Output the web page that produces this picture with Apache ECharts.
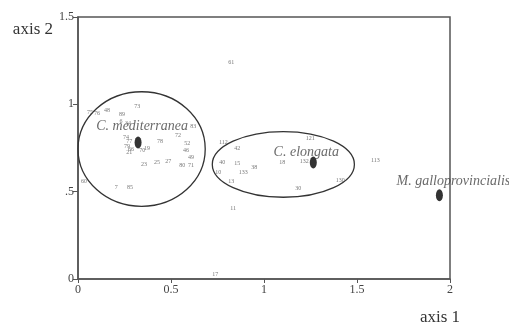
<!DOCTYPE html>
<html><head><meta charset="utf-8">
<script src="https://cdn.jsdelivr.net/npm/echarts@6/dist/echarts.min.js"></script>
<style>html,body{margin:0;padding:0;background:#fff}#c{width:509px;height:326px}</style>
</head><body><div id="c"></div>
<script>
// sample point labels and coordinates (axis 1, axis 2)
var pointNames = ["73","75","76","48","89","6","34","83","72","78","52","46","49","71","80","27","25","23","19","74","77","79","66","21","70","60","7","85",
  "121","18","132","112","42","40","15","38","133","10","13","130","30",
  "61","17","11","113"];
var pointX = [0.318,0.065,0.102,0.156,0.237,0.231,0.269,0.619,0.538,0.441,0.587,0.581,0.608,0.608,0.560,0.485,0.425,0.355,0.371,0.258,0.275,0.264,0.285,0.275,0.345,0.032,0.205,0.280,
  1.249,1.098,1.217,0.781,0.856,0.775,0.856,0.948,0.888,0.754,0.824,1.410,1.184,
  0.824,0.738,0.834,1.599];
var pointY = [0.987,0.953,0.947,0.964,0.941,0.901,0.890,0.873,0.821,0.787,0.776,0.736,0.696,0.650,0.650,0.673,0.667,0.656,0.747,0.810,0.787,0.759,0.741,0.724,0.736,0.559,0.525,0.525,
  0.804,0.667,0.673,0.781,0.747,0.667,0.662,0.639,0.610,0.610,0.559,0.565,0.519,
  1.238,0.029,0.405,0.679];

// species centroids
var speciesNames = ["C. mediterranea","C. elongata","M. galloprovincialis"];
var centroidX = [0.323,1.265,1.943];
var centroidY = [0.781,0.667,0.479];

// group ellipses: centre x, centre y, radius x, radius y (axis units)
var ellipseCX = [0.342,1.104];
var ellipseCY = [0.744,0.656];
var ellipseRX = [0.342,0.382];
var ellipseRY = [0.328,0.188];

var xTicks = ["0","0.5","1","1.5","2"];
var yTicks = ["0",".5","1","1.5"];

var serif = '"Liberation Serif", "DejaVu Serif", serif';
var labelOffsets = [[4,-16],[-7,-10],[14,-14]];

var chart = echarts.init(document.getElementById('c'), null, {renderer:'canvas'});
chart.setOption({
  animation:false,
  backgroundColor:'#fff',
  grid:{left:78,right:59,top:17,bottom:46,show:true,borderColor:'#555',borderWidth:1.5,backgroundColor:'transparent'},
  xAxis:{type:'value',min:0,max:2,interval:0.5,
    name:'axis 1',nameLocation:'end',nameGap:-10,
    nameTextStyle:{fontFamily:serif,fontSize:17,color:'#333',align:'center',verticalAlign:'top',padding:[30,0,0,0]},
    axisLine:{show:true,lineStyle:{color:'#555',width:1.5}},
    axisTick:{show:true,length:4,lineStyle:{color:'#555'}},
    axisLabel:{fontFamily:serif,fontSize:12,color:'#444',margin:5,formatter:function(v){return xTicks[Math.round(v/0.5)];}},
    splitLine:{show:false}},
  yAxis:{type:'value',min:0,max:1.5,interval:0.5,
    name:'axis 2',nameLocation:'end',nameGap:-21,
    nameTextStyle:{fontFamily:serif,fontSize:17,color:'#333',align:'right',padding:[0,25,0,0]},
    axisLine:{show:true,lineStyle:{color:'#555',width:1.5}},
    axisTick:{show:true,length:5,lineStyle:{color:'#555'}},
    axisLabel:{fontFamily:serif,fontSize:12,color:'#444',margin:4,formatter:function(v){return yTicks[Math.round(v/0.5)];}},
    splitLine:{show:false}},
  series:[
    {type:'custom',name:'groups',clip:false,silent:true,
     data:ellipseCX.map(function(cx,i){return [cx,ellipseCY[i],ellipseRX[i],ellipseRY[i]];}),
     renderItem:function(params,api){
       var c=api.coord([api.value(0),api.value(1)]);
       var p=api.coord([api.value(0)+api.value(2),api.value(1)+api.value(3)]);
       return {type:'ellipse',shape:{cx:c[0],cy:c[1],rx:Math.abs(p[0]-c[0]),ry:Math.abs(p[1]-c[1])},
         style:{fill:'none',stroke:'#333',lineWidth:1.3}};
     }},
    {type:'scatter',name:'samples',symbolSize:2,itemStyle:{color:'rgba(255,255,255,0)'},
     data:pointNames.map(function(n,i){return {name:n,value:[pointX[i],pointY[i]]};}),
     labelLayout:{hideOverlap:false},
     label:{show:true,position:'inside',formatter:'{b}',fontFamily:serif,fontSize:6,color:'#555'}},
    {type:'scatter',name:'species',symbol:'circle',symbolSize:[7,12],itemStyle:{color:'#000'},
     data:speciesNames.map(function(n,i){return {name:n,value:[centroidX[i],centroidY[i]],
       label:{offset:labelOffsets[i]}};}),
     label:{show:true,position:'inside',formatter:'{b}',fontFamily:serif,fontStyle:'italic',fontSize:14,color:'#444'}}
  ]
});
</script></body></html>
